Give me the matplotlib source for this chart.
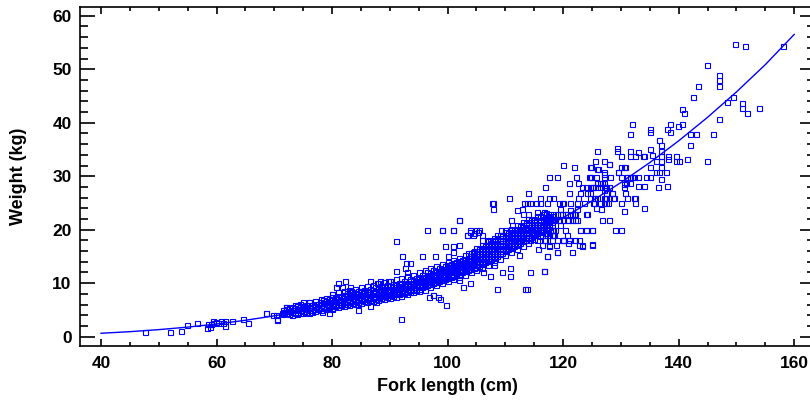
import numpy as np
import matplotlib
matplotlib.use("Agg")
import matplotlib.pyplot as plt
from matplotlib.ticker import MultipleLocator

plt.rcParams['font.family'] = ['Liberation Sans', 'DejaVu Sans']

################################
# Data
################################
# fitted length-weight curve, sampled every 5 cm
curve_len = [40, 45, 50, 55, 60, 65, 70, 75, 80, 85, 90, 95, 100, 105,
             110, 115, 120, 125, 130, 135, 140, 145, 150, 155, 160]
curve_w = [0.64, 0.94, 1.32, 1.79, 2.37, 3.07, 3.90, 4.87, 6.01, 7.30,
           8.79, 10.46, 12.35, 14.45, 16.80, 19.39, 22.25, 25.38, 28.81,
           32.55, 36.61, 41.01, 45.75, 50.86, 56.50]

# small fish (< 72 cm)
small_fish = [
    (47.6, 0.9), (51.9, 0.9), (53.8, 1.0), (54.9, 2.1), (56.6, 2.5),
    (58.3, 1.7), (58.6, 2.4), (58.9, 1.9), (59.0, 2.4), (59.4, 2.5),
    (59.4, 3.0), (59.9, 2.7), (60.3, 2.5), (60.7, 3.0), (61.2, 2.6),
    (61.5, 2.0), (61.5, 3.0), (62.7, 3.0), (64.5, 3.4), (65.4, 2.6),
    (68.5, 4.4), (69.8, 4.0), (70.3, 4.0), (70.4, 3.2), (71.3, 4.5),
    (72.0, 5.6), (70.4, 3.3), (71.6, 4.7), (68.6, 4.5),
]

# dense band 71.5 - 118 cm: length -> weights
band_len = [71.5 + 0.5 * i for i in range(94)]
band_w = [
    [4.3, 4.9], [4.5, 5.1, 5.6], [4.2, 4.8, 5.3], [4.6, 5.0, 5.5, 4.1],
    [4.4, 4.9, 5.4, 5.9], [4.7, 5.2, 4.3, 5.7], [4.5, 5.0, 5.5, 6.1],
    [4.8, 5.3, 4.4, 5.8, 6.4], [4.6, 5.1, 5.6, 6.0], [4.9, 5.4, 5.9, 4.5, 6.5],
    [5.0, 5.5, 6.0, 4.7], [5.2, 5.7, 6.2, 4.8, 6.7], [5.1, 5.6, 6.1, 5.3],
    [5.4, 5.9, 6.4, 5.0, 7.0], [5.3, 5.8, 6.3, 6.8], [5.6, 6.1, 6.6, 5.2, 7.2],
    [5.5, 6.0, 6.5, 7.0, 5.8], [5.8, 6.3, 6.8, 5.4, 7.4, 8.0],
    [5.7, 6.2, 6.7, 7.2, 6.0], [6.0, 6.5, 7.0, 5.5, 7.6, 8.4],
    [5.9, 6.4, 6.9, 7.4, 6.2], [6.2, 6.7, 7.2, 5.7, 7.8, 8.6],
    [6.1, 6.6, 7.1, 7.6, 6.4, 8.1], [6.4, 6.9, 7.4, 5.9, 8.0, 8.8],
    [6.3, 6.8, 7.3, 7.8, 6.6, 8.3], [6.6, 7.1, 7.6, 6.1, 8.2, 9.0],
    [6.5, 7.0, 7.5, 8.0, 6.8, 8.5], [6.8, 7.3, 7.8, 6.3, 8.4, 9.3, 7.0],
    [6.7, 7.2, 7.7, 8.2, 7.0, 8.8], [7.0, 7.5, 8.0, 6.5, 8.6, 9.5],
    [6.9, 7.4, 7.9, 8.4, 7.2, 9.0], [7.2, 7.7, 8.2, 6.7, 8.8, 9.7],
    [7.1, 7.6, 8.1, 8.6, 7.4, 9.2], [7.4, 7.9, 8.4, 6.9, 9.0, 10.0],
    [7.3, 7.8, 8.3, 8.8, 7.6, 9.4], [7.6, 8.1, 8.6, 7.1, 9.2, 10.2, 8.9],
    [7.5, 8.0, 8.5, 9.0, 7.8, 9.7], [7.8, 8.3, 8.8, 7.3, 9.4, 10.4, 9.0],
    [7.7, 8.2, 8.7, 9.2, 8.0, 9.9], [8.0, 8.5, 9.0, 7.5, 9.6, 10.7, 9.3],
    [7.9, 8.4, 8.9, 9.4, 8.2, 10.1], [8.2, 8.7, 9.2, 7.7, 9.8, 11.0, 9.5],
    [8.1, 8.6, 9.1, 9.6, 8.4, 10.4], [8.5, 9.0, 9.5, 8.0, 10.1, 11.3, 9.8],
    [8.4, 8.9, 9.4, 9.9, 8.7, 10.7], [8.8, 9.3, 9.8, 8.3, 10.4, 11.6, 10.1],
    [8.7, 9.2, 9.7, 10.2, 9.0, 11.0], [9.0, 9.6, 10.2, 8.5, 10.8, 12.0, 10.5],
    [9.2, 9.8, 10.4, 11.0, 9.5, 11.6], [9.4, 10.0, 10.6, 8.8, 11.2, 12.4, 10.9],
    [9.6, 10.2, 10.8, 11.4, 9.9, 12.0], [9.8, 10.4, 11.0, 9.2, 11.6, 12.8, 11.3],
    [10.0, 10.6, 11.2, 11.8, 10.3, 12.4], [10.2, 10.8, 11.4, 9.6, 12.0, 13.2, 11.7],
    [10.4, 11.0, 11.6, 12.2, 10.7, 12.8], [10.6, 11.2, 11.8, 10.0, 12.4, 13.6, 12.1],
    [10.8, 11.4, 12.0, 12.6, 11.1, 13.2],
    [11.0, 11.6, 12.2, 10.4, 12.8, 14.0, 12.5, 13.4],
    [11.2, 11.8, 12.4, 13.0, 11.5, 13.6],
    [11.4, 12.0, 12.6, 10.8, 13.2, 14.4, 12.9, 13.8],
    [11.6, 12.2, 12.8, 13.4, 11.9, 14.0],
    [11.8, 12.4, 13.0, 11.2, 13.6, 14.8, 13.3, 14.2],
    [12.0, 12.6, 13.2, 13.8, 12.3, 14.4],
    [12.2, 12.8, 13.4, 11.6, 14.0, 15.2, 13.7, 14.6],
    [12.4, 13.0, 13.6, 14.2, 12.7, 14.8, 15.6],
    [12.6, 13.2, 13.8, 12.0, 14.4, 15.6, 14.1, 15.0],
    [12.8, 13.4, 14.0, 14.6, 13.1, 15.2, 16.0],
    [13.0, 13.6, 14.2, 12.4, 14.8, 16.0, 14.5, 15.4, 16.6],
    [13.3, 13.9, 14.5, 15.1, 13.6, 15.7, 16.4],
    [13.6, 14.2, 14.8, 12.8, 15.4, 16.6, 15.1, 16.0, 17.2],
    [13.9, 14.5, 15.1, 15.7, 14.2, 16.3, 17.0],
    [14.2, 14.8, 15.4, 13.4, 16.0, 17.2, 15.7, 16.6, 17.8],
    [14.5, 15.1, 15.7, 16.3, 14.8, 16.9, 17.6],
    [14.8, 15.4, 16.0, 14.0, 16.6, 17.8, 16.3, 17.2, 18.4],
    [15.1, 15.7, 16.3, 16.9, 15.4, 17.5, 18.2],
    [15.4, 16.0, 16.6, 14.6, 17.2, 18.4, 16.9, 17.8, 19.0],
    [15.7, 16.3, 16.9, 17.5, 16.0, 18.1, 18.8],
    [16.0, 16.6, 17.2, 15.2, 17.8, 19.0, 17.5, 18.4, 19.6],
    [16.3, 16.9, 17.5, 18.1, 16.6, 18.7, 19.4],
    [16.6, 17.2, 17.8, 15.8, 18.4, 19.6, 18.1, 19.0, 20.2],
    [16.9, 17.5, 18.1, 18.7, 17.2, 19.3, 20.0],
    [17.2, 17.8, 18.4, 16.4, 19.0, 20.2, 18.7, 19.6, 20.8],
    [17.5, 18.1, 18.7, 19.3, 17.8, 19.9, 20.6],
    [17.8, 18.4, 19.0, 17.0, 19.6, 20.8, 19.3, 20.2, 21.4],
    [18.1, 18.7, 19.3, 19.9, 18.4, 20.5, 21.2],
    [18.4, 19.0, 19.6, 17.6, 20.2, 21.4, 19.9, 20.8, 22.0],
    [18.7, 19.3, 19.9, 20.5, 19.0, 21.1, 21.8],
    [19.0, 19.6, 20.2, 18.2, 20.8, 22.0, 20.5, 21.4],
    [19.3, 19.9, 20.5, 21.1, 22.5], [19.6, 20.2, 20.8, 18.8, 21.4, 22.6],
    [19.9, 20.5, 21.1, 21.7, 23.0], [20.2, 20.8, 21.4, 19.4, 22.0, 23.2],
    [20.5, 21.1, 21.7, 22.3], [20.8, 21.4, 22.0, 20.0, 22.6],
]

# scattered points around the band (72 - 118 cm)
mid_fish = [
    (79.9, 7.9), (80.7, 9.3), (81.7, 9.2), (83.1, 9.3), (83.3, 8.6),
    (85.0, 8.6), (86.0, 8.4), (81.0, 10.1), (82.3, 10.5), (86.6, 10.5),
    (87.7, 10.1), (88.3, 10.5), (89.6, 10.5), (84.4, 5.0), (86.5, 5.7),
    (87.6, 6.4), (84.4, 6.2), (82.3, 6.2), (79.4, 4.4), (79.9, 5.1),
    (78.2, 4.7), (76.0, 6.5), (73.9, 5.9), (91.9, 3.4), (99.7, 5.9),
    (98.6, 7.0), (96.7, 7.4), (97.5, 7.8), (98.4, 7.5), (91.0, 17.9),
    (96.5, 19.9), (99.0, 19.9), (101.0, 19.9), (102.0, 21.9), (92.1, 15.0),
    (95.5, 15.0), (97.8, 15.0), (100.0, 15.0), (92.8, 13.8), (93.5, 13.8),
    (92.6, 12.8), (91.1, 12.3), (92.9, 12.0), (103.3, 19.0), (103.9, 19.6),
    (104.5, 19.3), (105.3, 19.6), (107.6, 24.9), (107.8, 23.9), (110.7, 25.9),
    (103.9, 19.9), (104.9, 19.9), (105.5, 19.9), (109.3, 19.9), (110.0, 19.9),
    (111.0, 19.9), (112.0, 19.9), (112.8, 19.9), (113.7, 19.9), (114.3, 19.9),
    (115.4, 19.9), (117.2, 19.9), (103.3, 19.0), (104.4, 19.0), (105.9, 19.0),
    (108.5, 19.0), (109.4, 19.0), (111.1, 19.0), (112.5, 19.0), (114.0, 19.0),
    (114.8, 19.0), (116.3, 19.0), (117.5, 19.0), (99.6, 17.0), (100.9, 17.0),
    (102.0, 17.1), (104.4, 15.9), (105.9, 18.1), (106.8, 18.1), (107.4, 18.1),
    (108.2, 18.1), (109.1, 18.1), (110.0, 18.1), (111.4, 18.1), (112.3, 18.1),
    (113.1, 18.1), (114.3, 18.1), (115.4, 18.1), (116.6, 18.1), (117.5, 17.0),
    (113.9, 26.8), (107.9, 24.9), (113.2, 24.9), (113.7, 24.9), (114.3, 24.9),
    (115.3, 24.9), (116.0, 24.9), (117.2, 24.9), (112.0, 23.6), (112.8, 23.9),
    (115.4, 23.4), (116.7, 23.4), (113.1, 22.9), (113.9, 22.9), (117.7, 22.9),
    (111.0, 21.8), (114.9, 21.8), (116.0, 21.8), (116.9, 21.8), (117.5, 21.8),
    (102.0, 21.8), (111.1, 20.9), (114.9, 20.9), (99.0, 19.9), (101.0, 19.9),
    (116.0, 25.9), (117.6, 25.9), (116.8, 27.9), (117.5, 29.8), (108.5, 9.0),
    (113.4, 9.0), (113.7, 9.0), (110.8, 12.8), (110.8, 11.3), (114.3, 12.0),
    (116.6, 12.3), (117.2, 15.0), (107.4, 11.3), (109.4, 12.0), (103.9, 10.0),
    (102.7, 9.3), (101.9, 10.6), (97.5, 7.8), (116.7, 12.3), (117.2, 15.0),
    (116.3, 17.1), (116.9, 19.0), (116.9, 18.1), (116.0, 20.0), (117.2, 21.8),
    (106.2, 12.0), (108.0, 13.4), (112.4, 15.2), (115.6, 16.4), (101.0, 15.9),
]

# large fish (> 118 cm)
large_fish = [
    (149.7, 54.8), (151.5, 54.3), (158.0, 54.3), (144.9, 50.8), (146.9, 48.9),
    (146.9, 47.9), (146.9, 46.9), (143.3, 46.9), (142.5, 44.8), (149.4, 44.8),
    (148.3, 43.9), (150.9, 43.6), (150.9, 42.8), (153.9, 42.8), (151.9, 41.9),
    (140.6, 42.6), (141.0, 41.9), (146.9, 40.7), (132.0, 39.8), (138.5, 39.8),
    (140.6, 39.8), (139.9, 39.4), (135.0, 38.9), (135.0, 38.3), (138.0, 38.8),
    (138.5, 38.3), (131.5, 37.9), (142.0, 37.9), (143.0, 37.9), (145.9, 37.9),
    (136.6, 36.8), (137.0, 35.9), (142.0, 35.9), (129.3, 35.2), (129.3, 34.8),
    (131.6, 34.8), (132.9, 34.5), (135.0, 35.1), (137.0, 34.8), (125.9, 34.8),
    (130.0, 33.8), (131.5, 33.8), (132.5, 33.8), (133.8, 33.8), (134.0, 33.8),
    (135.4, 34.0), (137.0, 33.8), (138.1, 33.8), (139.6, 33.8), (138.1, 33.3),
    (141.5, 33.3), (125.5, 32.8), (127.0, 32.8), (136.0, 32.8), (137.0, 32.8),
    (139.6, 32.8), (140.1, 32.8), (144.9, 32.8), (128.0, 32.3), (124.7, 31.8),
    (130.0, 31.8), (130.7, 31.8), (135.0, 31.8), (137.0, 31.8), (125.9, 31.4),
    (127.0, 30.8), (129.5, 30.8), (136.0, 30.8), (136.6, 30.8), (137.8, 30.8),
    (124.7, 29.9), (127.0, 29.9), (130.0, 29.9), (131.0, 29.9), (131.5, 29.9),
    (131.9, 29.9), (132.2, 29.9), (133.0, 29.9), (134.3, 29.9), (135.0, 29.9),
    (137.0, 29.5), (125.9, 28.8), (126.4, 28.8), (130.9, 28.8), (131.6, 28.8),
    (130.6, 28.5), (133.0, 28.2), (134.0, 28.2), (138.0, 28.2), (136.4, 28.0),
    (124.7, 27.9), (125.2, 27.9), (125.9, 27.9), (127.0, 27.9), (127.5, 27.9),
    (128.0, 27.9), (127.1, 27.4), (128.5, 26.8), (130.7, 26.8), (124.7, 25.9),
    (125.5, 25.9), (127.0, 25.9), (127.3, 25.9), (128.8, 25.9), (131.0, 25.9),
    (132.2, 25.9), (132.5, 25.9), (125.9, 25.9), (125.2, 24.9), (127.0, 24.9),
    (127.8, 24.9), (130.0, 24.9), (132.5, 24.9), (134.0, 24.0),
    (120.0, 32.1), (121.9, 31.8), (124.8, 31.8), (126.0, 31.3), (128.0, 32.3),
    (127.0, 30.5), (130.6, 31.8), (118.9, 29.8), (122.3, 29.8), (124.4, 29.8),
    (124.8, 29.8), (125.7, 29.8), (128.1, 29.8), (129.5, 30.8), (131.0, 29.8),
    (121.0, 28.8), (122.5, 28.8), (125.9, 28.8), (126.7, 28.8), (127.1, 28.8),
    (123.2, 27.9), (124.0, 27.9), (125.0, 27.9), (125.2, 27.9), (126.4, 27.9),
    (127.3, 27.9), (130.6, 27.9), (121.0, 26.8), (122.9, 26.8), (124.1, 26.8),
    (124.6, 26.8), (127.5, 26.8), (128.4, 26.8), (118.2, 25.9), (122.6, 25.9),
    (125.4, 25.9), (127.5, 25.9), (128.7, 25.9), (119.2, 24.9), (119.8, 24.9),
    (120.0, 24.9), (121.2, 24.9), (122.4, 24.9), (123.6, 24.9), (125.3, 24.9),
    (126.4, 24.9), (127.5, 24.9), (119.5, 23.9), (121.2, 23.6), (122.4, 23.9),
    (125.7, 24.1), (126.5, 23.9), (130.6, 23.5), (118.9, 22.9), (119.8, 22.9),
    (120.6, 22.9), (121.8, 22.9), (124.1, 22.9), (118.6, 21.8), (119.2, 21.8),
    (120.0, 21.8), (120.9, 21.8), (121.5, 21.8), (122.1, 21.8), (122.4, 21.8),
    (126.7, 21.8), (128.0, 21.8), (119.5, 20.9), (118.0, 19.9), (118.6, 19.9),
    (122.9, 19.9), (124.0, 19.9), (125.0, 19.9), (129.0, 19.9), (130.0, 19.9),
    (118.3, 19.0), (120.0, 18.1), (120.9, 17.6), (122.0, 18.1), (125.0, 17.3),
    (118.9, 18.1), (120.0, 18.1), (121.1, 18.1), (122.8, 18.1), (118.3, 22.9),
    (119.5, 22.9), (120.3, 22.9), (121.5, 22.9), (122.1, 22.9), (123.9, 22.9),
    (118.3, 21.8), (120.6, 21.8), (121.5, 21.8), (118.3, 20.0), (120.3, 20.0),
    (122.9, 20.0), (123.9, 20.0), (125.0, 20.0), (118.0, 19.0), (118.5, 19.0),
    (120.6, 19.0), (118.0, 18.1), (119.9, 18.1), (121.9, 18.1), (121.0, 18.1),
    (117.5, 17.1), (118.8, 17.1), (122.8, 17.1), (123.2, 17.1), (125.0, 17.1),
    (118.9, 15.9), (121.5, 15.9), (123.2, 17.0), (118.9, 15.9),
]

################################
# Plot
################################
fish = small_fish + mid_fish + large_fish
for L, ws in zip(band_len, band_w):
    fish += [(L, w) for w in ws]
fork_length = np.array([p[0] for p in fish])
weight = np.array([p[1] for p in fish])

blue = '#0000ff'
fig = plt.figure(figsize=(8.1, 4.05), dpi=100)
ax = fig.add_axes([80 / 810, 59 / 405, 735 / 810, 339 / 405])

ax.plot(fork_length, weight, ls='none', marker='s', ms=3.6, mfc='none',
        mec=blue, mew=0.8)
ax.plot(curve_len, curve_w, color=blue, lw=1.0)

ax.set_xlim(36.36, 163.6)
ax.set_ylim(-1.74, 61.63)

ax.xaxis.set_major_locator(MultipleLocator(20))
ax.xaxis.set_minor_locator(MultipleLocator(5))
ax.yaxis.set_major_locator(MultipleLocator(10))
ax.yaxis.set_minor_locator(MultipleLocator(2))

ax.tick_params(axis='x', which='both', direction='in', top=True, width=1.2,
               pad=7, labelsize=12.5)
ax.tick_params(axis='x', which='major', length=5)
ax.tick_params(axis='x', which='minor', length=3)
ax.tick_params(axis='y', which='both', direction='in', right=True, width=1.2,
               pad=6, labelsize=12.5)
ax.tick_params(axis='y', which='major', length=11)
ax.tick_params(axis='y', which='minor', length=6)
for lab in ax.get_xticklabels() + ax.get_yticklabels():
    lab.set_fontweight('bold')
for sp in ax.spines.values():
    sp.set_linewidth(1.2)

ax.set_xlabel("Fork length (cm)", fontsize=13, fontweight='bold')
ax.set_ylabel("Weight (kg)", fontsize=13, fontweight='bold')
ax.xaxis.set_label_coords(0.5, -0.095)
ax.yaxis.set_label_coords(-0.072, 0.5)

fig.savefig("out.png", dpi=100)
